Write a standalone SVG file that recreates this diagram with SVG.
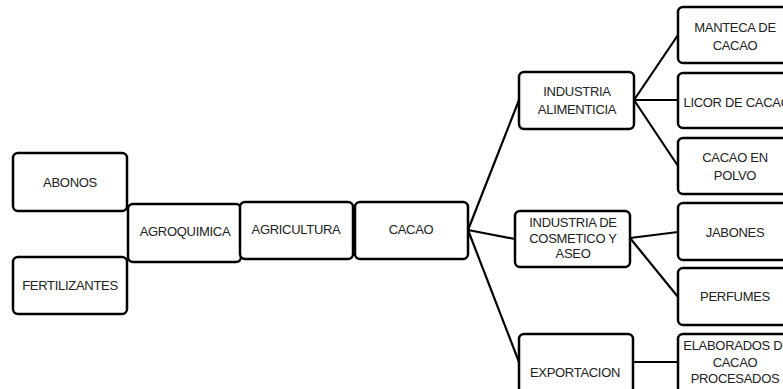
<svg xmlns="http://www.w3.org/2000/svg" width="783" height="389" viewBox="0 0 783 389">
<style>
.box{fill:#fff;stroke:#000;stroke-width:2.5}
.t{font-family:"Liberation Sans",Arial,sans-serif;font-size:13px;letter-spacing:-0.3px;fill:#222;text-anchor:middle}
.c{stroke:#000;stroke-width:2.2;fill:none}
</style>
<rect width="783" height="389" fill="#fff"/>
<g id="connectors">
<line class="c" x1="468" y1="230" x2="519" y2="100"/>
<line class="c" x1="468" y1="230" x2="515" y2="239"/>
<line class="c" x1="468" y1="230" x2="519" y2="362"/>
<line class="c" x1="634" y1="100" x2="678" y2="35"/>
<line class="c" x1="634" y1="100" x2="678" y2="100"/>
<line class="c" x1="634" y1="100" x2="678" y2="166"/>
<line class="c" x1="630" y1="238" x2="678" y2="232"/>
<line class="c" x1="630" y1="238" x2="678" y2="297"/>
<line class="c" x1="633" y1="362" x2="678" y2="362"/>
</g>
<g id="abonos"><rect class="box" x="13" y="153" width="114" height="58" rx="5"/><text class="t" x="70" y="187">ABONOS</text></g>
<g id="fertilizantes"><rect class="box" x="13" y="257" width="114" height="57" rx="5"/><text class="t" x="70" y="290">FERTILIZANTES</text></g>
<g id="agroquimica"><rect class="box" x="128" y="204" width="113" height="58" rx="5"/><text class="t" x="185" y="236">AGROQUIMICA</text></g>
<g id="agricultura"><rect class="box" x="240" y="202" width="113" height="57" rx="5"/><text class="t" x="296" y="234">AGRICULTURA</text></g>
<g id="cacao"><rect class="box" x="355" y="202" width="113" height="57" rx="5"/><text class="t" x="411" y="234">CACAO</text></g>
<g id="ind-alimenticia"><rect class="box" x="519" y="72" width="115" height="57" rx="5"/><text class="t" x="577" y="96">INDUSTRIA</text><text class="t" x="577" y="114">ALIMENTICIA</text></g>
<g id="ind-cosmetico"><rect class="box" x="515" y="211" width="115" height="56" rx="5"/><text class="t" x="573" y="227">INDUSTRIA DE</text><text class="t" x="573" y="243">COSMETICO Y</text><text class="t" x="573" y="258">ASEO</text></g>
<g id="exportacion"><rect class="box" x="519" y="334" width="114" height="60" rx="5"/><text class="t" x="575" y="377">EXPORTACION</text></g>
<g id="manteca"><rect class="box" x="678" y="7" width="115" height="56" rx="5"/><text class="t" x="735" y="32">MANTECA DE</text><text class="t" x="735" y="50">CACAO</text></g>
<g id="licor"><rect class="box" x="678" y="73" width="115" height="55" rx="5"/><text class="t" x="737" y="107">LICOR DE CACAO</text></g>
<g id="polvo"><rect class="box" x="678" y="138" width="115" height="56" rx="5"/><text class="t" x="735" y="162">CACAO EN</text><text class="t" x="735" y="180">POLVO</text></g>
<g id="jabones"><rect class="box" x="678" y="203" width="115" height="57" rx="5"/><text class="t" x="735" y="237">JABONES</text></g>
<g id="perfumes"><rect class="box" x="678" y="268" width="115" height="57" rx="5"/><text class="t" x="735" y="301">PERFUMES</text></g>
<g id="elaborados"><rect class="box" x="678" y="334" width="115" height="60" rx="5"/><text class="t" x="737" y="350">ELABORADOS DE</text><text class="t" x="735" y="367">CACAO</text><text class="t" x="735" y="383">PROCESADOS</text></g>
</svg>
